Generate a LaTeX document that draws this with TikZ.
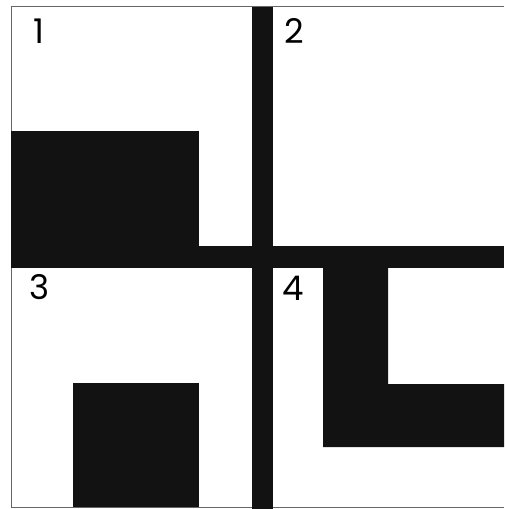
\documentclass[tikz,border=0pt]{standalone}
\usepackage{fontspec}
\setmainfont{Poppins}
\begin{document}
\begin{tikzpicture}[x=1pt,y=-1pt]
\useasboundingbox (0,0) rectangle (504,509);
\fill[white] (0,0) rectangle (504,509);
\tikzset{block/.style={fill=black!93}, num/.style={font=\fontsize{34}{34}\selectfont\mdseries, inner sep=0pt}}

% frame
\draw[black!60,line width=0.8pt] (504,6) -- (11,6) -- (11,507) -- (504,507);

% bars
\fill[block] (11,246) rectangle (504,268);
\fill[block] (252,7) rectangle (273,509);

% quadrant shapes
\fill[block] (11,131) rectangle (199,247);
\fill[block] (323,267) -- (388,267) -- (388,384) -- (504,384) -- (504,447) -- (323,447) -- cycle;
\fill[block] (73,383) rectangle (199,507);

\node[num] (n1) at (39,31) {1};
\node[num] (n2) at (294,31) {2};
\node[num] (n3) at (40,287) {3};
\node[num] (n4) at (293,288) {4};
\end{tikzpicture}
\end{document}
